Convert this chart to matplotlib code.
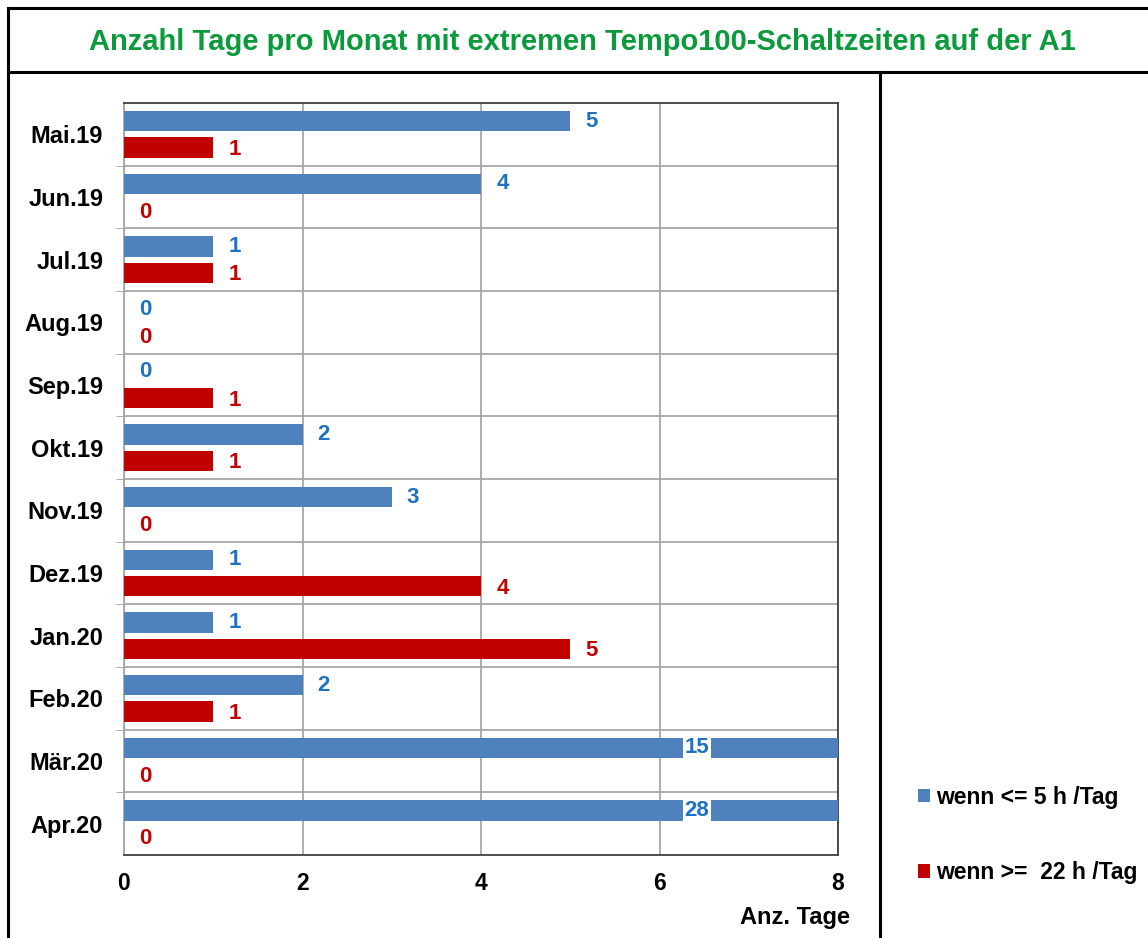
import matplotlib
matplotlib.use("Agg")
import matplotlib.pyplot as plt
from matplotlib.lines import Line2D

plt.rcParams['font.family'] = ['Liberation Sans', 'DejaVu Sans']

# data
months = ["Mai.19", "Jun.19", "Jul.19", "Aug.19", "Sep.19", "Okt.19",
          "Nov.19", "Dez.19", "Jan.20", "Feb.20", "Mär.20", "Apr.20"]
short_days = [5, 4, 1, 0, 0, 2, 3, 1, 1, 2, 15, 28]
long_days = [1, 0, 1, 0, 1, 1, 0, 4, 5, 1, 0, 0]
x_ticks = [0, 2, 4, 6, 8]
legend_labels = ["wenn <= 5 h /Tag", "wenn >=  22 h /Tag"]

blue = "#4F81BD"
red = "#C00000"
blue_txt = "#1F72C0"
red_txt = "#C00000"
xmax = 8

fig = plt.figure(figsize=(11.48, 9.38), dpi=100)
ax = fig.add_axes([124/1148, 1 - 855/938, (838-124)/1148, (855-103)/938])

pos = list(range(len(months)))
h = 0.32
off = 0.21
b1 = ax.barh([p - off for p in pos], short_days, height=h, color=blue, label=legend_labels[0], zorder=3)
b2 = ax.barh([p + off for p in pos], long_days, height=h, color=red, label=legend_labels[1], zorder=3)

for p, v in zip(pos, short_days):
    if v > xmax:
        ax.text(6.42, p - off, str(v), color=blue_txt, fontsize=16, fontweight='bold',
                ha='center', va='center', zorder=4,
                bbox=dict(facecolor='white', edgecolor='none', pad=1.0))
    else:
        ax.text(v + 0.17, p - off, str(v), color=blue_txt, fontsize=16, fontweight='bold',
                ha='left', va='center', zorder=4)
for p, v in zip(pos, long_days):
    ax.text(v + 0.17, p + off + 0.03, str(v), color=red_txt, fontsize=16, fontweight='bold',
            ha='left', va='center', zorder=4)

ax.set_xlim(0, xmax)
ax.set_ylim(len(months) - 0.5, -0.5)
ax.set_xticks(x_ticks)
ax.set_xticklabels([str(t) for t in x_ticks], fontsize=16.5, fontweight='bold')
ax.set_yticks(pos)
ax.set_yticklabels(months, fontsize=17, fontweight='bold')
ax.set_yticks([p + 0.5 for p in pos[:-1]], minor=True)
ax.tick_params(axis='y', which='major', length=0, pad=15)
ax.tick_params(axis='y', which='minor', length=6, color='#A0A0A0', direction='out')
ax.tick_params(axis='x', length=0, pad=12)
ax.grid(axis='x', color='#A0A0A0', linewidth=1.2, zorder=0)
ax.grid(axis='y', which='minor', color='#A0A0A0', linewidth=1.2, zorder=0)
for s in ['top', 'right', 'bottom']:
    ax.spines[s].set_color('#404040')
    ax.spines[s].set_linewidth(1.3)
ax.spines['left'].set_color('#A0A0A0')
ax.spines['left'].set_linewidth(1.2)

fig.text(850/1148, 1 - 917/938, "Anz. Tage", ha='right', va='center',
         fontsize=17, fontweight='bold')

fig.text(582/1148, 1 - 42/938, "Anzahl Tage pro Monat mit extremen Tempo100-Schaltzeiten auf der A1",
         ha='center', va='center', fontsize=21, fontweight='bold', color='#0A9A3C')

fig.legend(handles=[b1, b2], loc='center left', bbox_to_anchor=(897/1148, 1 - 835/938),
           frameon=False, handlelength=0.55, handleheight=0.55, handletextpad=0.25,
           labelspacing=2.3, prop={'size': 16.5, 'weight': 'bold'})

# frame lines
lw = 2.2
fig.add_artist(Line2D([8/1148, 8/1148], [0, 1 - 8/938], color='black', lw=lw, transform=fig.transFigure))
fig.add_artist(Line2D([8/1148, 1], [1 - 8/938, 1 - 8/938], color='black', lw=lw, transform=fig.transFigure))
fig.add_artist(Line2D([8/1148, 1], [1 - 72/938, 1 - 72/938], color='black', lw=lw, transform=fig.transFigure))
fig.add_artist(Line2D([880/1148, 880/1148], [0, 1 - 72/938], color='black', lw=lw, transform=fig.transFigure))

fig.savefig("out.png", dpi=100)
